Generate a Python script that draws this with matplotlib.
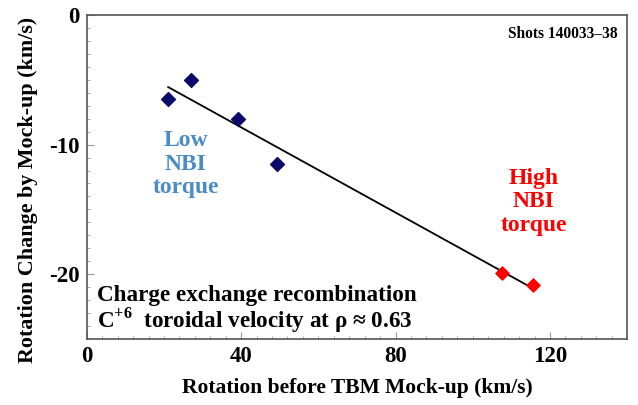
import matplotlib.pyplot as plt
import numpy as np
from matplotlib.ticker import MultipleLocator

plt.rcParams['font.family'] = ['Liberation Serif', 'DejaVu Serif']
plt.rcParams['font.weight'] = 'bold'
plt.rcParams['axes.unicode_minus'] = False
plt.rcParams['mathtext.fontset'] = 'custom'
plt.rcParams['mathtext.rm'] = 'Liberation Serif'
plt.rcParams['mathtext.bf'] = 'Liberation Serif:bold'

# Low NBI torque shots
low_x = [21.1, 27.0, 39.1, 49.3]
low_y = [-6.5, -5.0, -8.0, -11.5]
# High NBI torque shots
high_x = [107.5, 115.7]
high_y = [-19.9, -20.8]

xticks = [0, 40, 80, 120]
yticks = [0, -10, -20]

fig = plt.figure(figsize=(6.38, 4.05), dpi=100)
ax = fig.add_axes([0.136, 0.163, 0.847, 0.80])

# linear fit through all shots
all_x = np.array(low_x + high_x)
all_y = np.array(low_y + high_y)
slope, icpt = np.polyfit(all_x, all_y, 1)
fx = np.array([all_x.min(), all_x.max()])
ax.plot(fx, slope * fx + icpt, color='black', lw=1.3, zorder=2)

ax.scatter(low_x, low_y, marker='D', s=50, color='#0b0b6b', zorder=3)
ax.scatter(high_x, high_y, marker='D', s=45, color='#ff0000', zorder=3)

ax.set_xlim(0, 140)
ax.set_ylim(-25, 0)
ax.set_xticks(xticks)
ax.set_yticks(yticks)
ax.xaxis.set_minor_locator(MultipleLocator(4))
ax.yaxis.set_minor_locator(MultipleLocator(1))
ax.tick_params(which='both', direction='in', color='#999999')
ax.tick_params(which='major', length=5, labelsize=16.5, pad=5)
ax.tick_params(which='minor', length=2.5)
for lab in ax.get_xticklabels() + ax.get_yticklabels():
    lab.set_fontweight('bold')
for sp in ax.spines.values():
    sp.set_color('#555555')
    sp.set_linewidth(1.2)

ax.set_xlabel('Rotation before TBM Mock-up (km/s)', fontsize=15.5,
              fontweight='bold', labelpad=8)
ax.set_ylabel('Rotation Change by Mock-up (km/s)', fontsize=15.8,
              fontweight='bold')
ax.yaxis.set_label_coords(-0.09, 0.46)

ax.text(25.7, -11.5, 'Low\nNBI\ntorque', color='#4a8cc8', fontsize=17,
        fontweight='bold', ha='center', va='center', linespacing=1.15)
ax.text(115.8, -14.4, 'High\nNBI\ntorque', color='#ff0000', fontsize=17,
        fontweight='bold', ha='center', va='center', linespacing=1.15)
ax.text(137.5, -1.45, 'Shots 140033\u201338', fontsize=11.2,
        fontweight='bold', ha='right', va='center')
ax.text(2.7, -22.75,
        'Charge exchange recombination\nC$^{\\mathbf{+6}}$  toroidal velocity at \u03c1 \u2248 0.63',
        fontsize=16.7, fontweight='bold', ha='left', va='center',
        linespacing=1.0)

fig.savefig('out.png', dpi=100)
